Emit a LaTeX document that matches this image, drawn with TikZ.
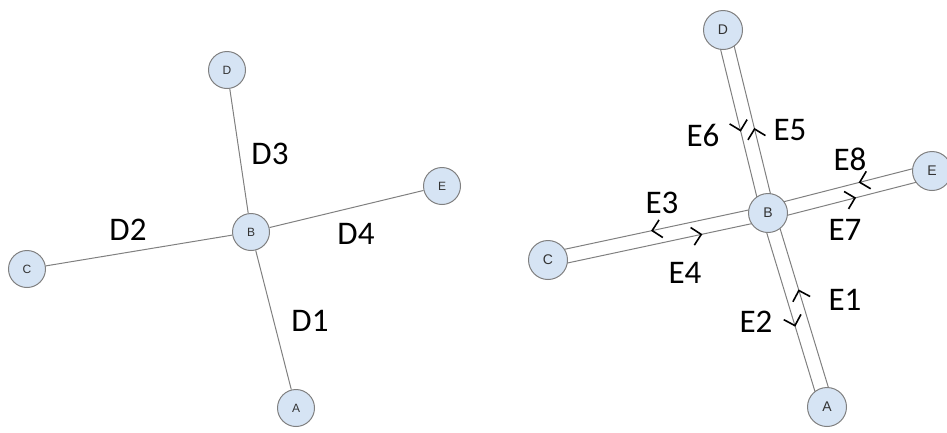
\documentclass[tikz,border=0pt]{standalone}
\usepackage{fontspec}
\setmainfont{Carlito}
\newfontfamily\vertfont{Liberation Sans}
\usetikzlibrary{calc,decorations.markings,backgrounds}
\definecolor{vertfill}{RGB}{214,228,244}
\definecolor{edgegray}{RGB}{128,128,128}
\begin{document}
\begin{tikzpicture}[x=1pt, y=-1pt,
    vert/.style={circle, draw=edgegray, fill=vertfill, line width=1pt, minimum size=37pt, inner sep=0pt, text=black!80, font=\vertfont\fontsize{12}{12}\selectfont},
    bigvert/.style={vert, minimum size=39pt, font=\vertfont\fontsize{14}{14}\selectfont},
    edge/.style={draw=edgegray, line width=1pt},
    lab/.style={font=\fontsize{33}{33}\selectfont, inner sep=0pt},
    chev/.style={draw=black, line width=1.6pt},
    fwd/.style={postaction={decorate, decoration={markings, mark=at position #1 with {\draw[chev] (-9pt,9pt) -- (0pt,0pt) -- (-9pt,-9pt);}}}},
    bwd/.style={postaction={decorate, decoration={markings, mark=at position #1 with {\draw[chev] (9pt,9pt) -- (0pt,0pt) -- (9pt,-9pt);}}}}]
    \useasboundingbox (0,0) rectangle (947,432);
    % left graph: star around B
    \node[vert] (lA) at (296,408) {A};
    \node[vert] (lB) at (251,232) {B};
    \node[vert] (lC) at (27,269) {C};
    \node[vert] (lD) at (227,70) {D};
    \node[vert] (lE) at (442,186) {E};
    \begin{scope}[on background layer]
        \foreach \n in {lA, lC, lD, lE} \draw[edge] (lB) -- (\n);
    \end{scope}
    \node[lab] (d1) at (310,321) {D1};
    \node[lab] (d2) at (128,230) {D2};
    \node[lab] (d3) at (270,154) {D3};
    \node[lab] (d4) at (356,234) {D4};
    % right graph: every edge split into two lanes
    \node[bigvert] (rA) at (827,407) {A};
    \node[bigvert] (rB) at (768,213) {B};
    \node[bigvert] (rC) at (548,260) {C};
    \node[bigvert] (rD) at (723,30) {D};
    \node[bigvert] (rE) at (932,171) {E};
    \begin{scope}[on background layer]
        % B -- D
        \draw[edge, bwd=0.46] ($(rB)!7pt!90:(rD)$) -- ($(rD)!7pt!-90:(rB)$);
        \draw[edge, fwd=0.45] ($(rB)!7pt!-90:(rD)$) -- ($(rD)!7pt!90:(rB)$);
        % B -- E
        \draw[edge, bwd=0.57] ($(rB)!7pt!90:(rE)$) -- ($(rE)!7pt!-90:(rB)$);
        \draw[edge, fwd=0.52] ($(rB)!7pt!-90:(rE)$) -- ($(rE)!7pt!90:(rB)$);
        % B -- C
        \draw[edge, bwd=0.31] ($(rB)!7pt!90:(rC)$) -- ($(rC)!7pt!-90:(rB)$);
        \draw[edge, fwd=0.52] ($(rB)!7pt!-90:(rC)$) -- ($(rC)!7pt!90:(rB)$);
        % B -- A
        \draw[edge, bwd=0.41] ($(rB)!7pt!90:(rA)$) -- ($(rA)!7pt!-90:(rB)$);
        \draw[edge, fwd=0.57] ($(rB)!7pt!-90:(rA)$) -- ($(rA)!7pt!90:(rB)$);
    \end{scope}
    \node[lab] (e1) at (845,300) {E1};
    \node[lab] (e2) at (756,322) {E2};
    \node[lab] (e3) at (662,203) {E3};
    \node[lab] (e4) at (685,273) {E4};
    \node[lab] (e5) at (790,130) {E5};
    \node[lab] (e6) at (703,135) {E6};
    \node[lab] (e7) at (845,230) {E7};
    \node[lab] (e8) at (850,159) {E8};
\end{tikzpicture}
\end{document}
